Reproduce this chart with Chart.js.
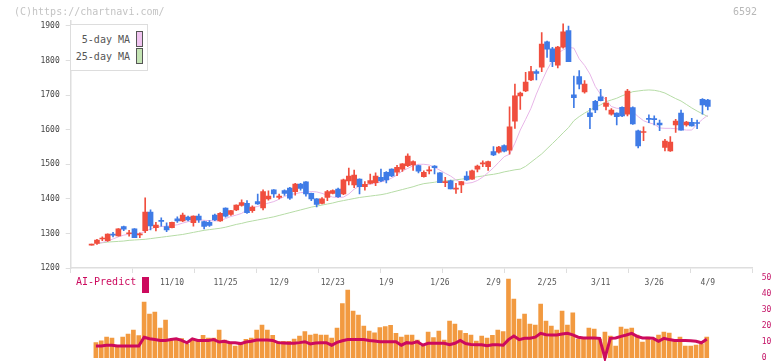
<!DOCTYPE html>
<html>
<head>
<meta charset="utf-8">
<title>6592</title>
<script src="https://cdn.jsdelivr.net/npm/chart.js@4.4.1/dist/chart.umd.min.js"></script>
<style>
    html, body { margin: 0; padding: 0; background: #fff; }
    #wrap { position: relative; width: 772px; height: 361px; overflow: hidden; font-family: 'DejaVu Sans Mono', monospace; }
    canvas { position: absolute; left: 0; }
    #priceChart { top: 0; }
    #volChart { top: 270px; }
    .txt { position: absolute; white-space: nowrap; font-size: 10px; line-height: 12px; color: #555; }
    .swatch { position: absolute; box-sizing: border-box; width: 7px; height: 16px; }
    #legendBox { position: absolute; left: 70px; top: 24px; width: 78px; height: 47px; box-sizing: border-box; border: 1px solid #ddd; background: #fff; }
</style>
</head>
<body>
<div id="wrap">
    <canvas id="priceChart" width="772" height="300"></canvas>
    <canvas id="volChart" width="772" height="91"></canvas>

    <div class="txt" style="left:14px; top:6px; color:#c4c4c4;">(C)https://chartnavi.com/</div>
    <div class="txt" style="right:15px; top:6px; color:#b8b8b8;">6592</div>

    <div id="legendBox"></div>
    <div class="txt" style="right:642px; top:34px;">5-day MA</div>
    <div class="swatch" style="left:136px; top:31px; background:#f0c4f0; border:1px solid #555;"></div>
    <div class="txt" style="right:642px; top:51px;">25-day MA</div>
    <div class="swatch" style="left:136px; top:48px; background:#c4e4b4; border:1px solid #555;"></div>

    <div class="txt" style="left:76px; top:276px; color:#cc0a5e;">AI-Predict</div>
    <div class="swatch" style="left:142px; top:277px; background:#cc0a5e;"></div>
</div>

<script>
// Daily candles, one per trading day (index 0 .. 115)
const opens = [1266,1271,1284,1279,1297,1293,1320,1299,1313,1296,1308,1362,1317,1337,1320,1317,1342,1336,1347,1331,
    1350,1334,1332,1353,1336,1373,1355,1368,1381,1387,1366,1392,1374,1400,1426,1404,1424,1431,1421,1443,
    1449,1416,1400,1387,1404,1416,1428,1414,1452,1440,1457,1435,1445,1447,1462,1477,1486,1477,1486,1496,
    1498,1496,1464,1481,1495,1475,1447,1452,1428,1440,1466,1457,1486,1501,1493,1537,1535,1554,1541,1625,
    1698,1712,1744,1768,1781,1854,1834,1787,1839,1887,1701,1754,1709,1649,1682,1695,1667,1645,1648,1665,
    1645,1664,1597,1592,1632,1631,1619,1549,1539,1614,1648,1614,1621,1620,1688,1686];
const highs = [1266,1283,1290,1299,1303,1314,1321,1309,1314,1302,1403,1368,1332,1345,1331,1333,1348,1359,1350,1351,
    1356,1336,1337,1356,1360,1374,1367,1383,1397,1395,1380,1414,1426,1423,1427,1414,1426,1433,1445,1445,
    1450,1417,1401,1404,1425,1426,1431,1457,1489,1483,1458,1450,1472,1475,1486,1479,1487,1497,1502,1530,
    1510,1498,1481,1493,1496,1476,1462,1454,1445,1451,1479,1483,1498,1510,1509,1551,1552,1556,1666,1732,
    1709,1766,1783,1773,1881,1856,1838,1841,1906,1900,1755,1771,1742,1662,1685,1717,1694,1661,1649,1666,
    1717,1666,1599,1608,1643,1640,1628,1572,1580,1630,1657,1624,1633,1628,1690,1688];
const lows = [1266,1268,1279,1277,1290,1292,1308,1292,1288,1288,1302,1310,1307,1321,1305,1316,1332,1334,1336,1321,
    1332,1313,1320,1337,1335,1347,1352,1366,1379,1358,1361,1384,1368,1396,1404,1400,1410,1398,1411,1425,
    1408,1395,1377,1385,1395,1414,1404,1412,1440,1432,1414,1425,1443,1438,1450,1446,1464,1467,1479,1493,
    1482,1475,1463,1472,1472,1447,1435,1429,1416,1418,1453,1456,1478,1493,1482,1525,1532,1536,1529,1604,
    1659,1710,1742,1744,1768,1809,1782,1779,1836,1797,1664,1718,1706,1603,1649,1683,1657,1642,1614,1638,
    1640,1615,1547,1568,1620,1614,1597,1539,1537,1592,1599,1610,1610,1603,1645,1657];
const closes = [1266,1281,1286,1298,1295,1313,1312,1301,1288,1298,1362,1322,1324,1335,1310,1332,1336,1353,1339,1350,
    1339,1320,1323,1339,1358,1350,1366,1382,1389,1360,1376,1385,1421,1408,1414,1408,1416,1402,1443,1430,
    1414,1400,1384,1400,1421,1424,1406,1455,1466,1469,1435,1442,1453,1466,1452,1455,1466,1491,1501,1524,
    1508,1480,1477,1483,1490,1447,1449,1429,1430,1450,1455,1481,1495,1503,1508,1527,1550,1538,1608,1698,
    1706,1738,1768,1763,1848,1833,1797,1839,1883,1797,1693,1732,1732,1638,1657,1684,1677,1657,1638,1640,
    1712,1617,1553,1594,1630,1629,1614,1567,1564,1625,1599,1622,1611,1618,1672,1667];

// Moving averages as drawn (no value on the first day)
const ma5 = [null,1270,1274,1278,1284,1290,1295,1298,1300,1300,1306,1313,1318,1320,1321,1323,1325,1330,1334,1336,
    1339,1338,1337,1336,1337,1343,1349,1353,1358,1368,1375,1378,1383,1388,1392,1399,1407,1412,1415,1418,
    1419,1421,1420,1416,1410,1405,1404,1405,1414,1428,1437,1441,1442,1445,1449,1453,1460,1469,1481,1488,
    1496,1500,1500,1498,1491,1483,1474,1466,1455,1447,1445,1447,1453,1463,1476,1490,1506,1522,1529,1561,
    1599,1630,1662,1703,1739,1773,1800,1821,1831,1838,1836,1805,1786,1761,1725,1702,1686,1667,1662,1661,
    1659,1652,1638,1626,1620,1616,1605,1604,1604,1603,1601,1599,1599,1616,1630,1642];
const ma25 = [null,1271,1273,1275,1276,1277,1278,1280,1281,1282,1283,1285,1287,1289,1291,1293,1295,1297,1300,1303,
    1306,1309,1311,1313,1315,1318,1322,1326,1329,1333,1336,1339,1342,1345,1348,1352,1356,1360,1364,1368,
    1372,1376,1379,1382,1385,1388,1392,1395,1398,1401,1404,1406,1408,1410,1412,1415,1419,1423,1427,1431,
    1435,1440,1444,1446,1448,1451,1452,1453,1455,1457,1459,1461,1464,1466,1469,1471,1474,1478,1481,1484,
    1486,1494,1506,1518,1530,1545,1560,1575,1591,1606,1626,1638,1648,1657,1665,1672,1681,1686,1691,1698,
    1704,1710,1712,1714,1715,1714,1711,1706,1698,1690,1683,1673,1663,1654,1646,1638];

// Lower panel: volume bars and AI-Predict line (0 - 50 scale)
const volumes = [null,9.6,10.8,13.1,12.5,7.5,13.1,15,17.5,14,35,27.5,28.7,18.7,23.7,11.2,12.1,12.1,8.7,11.7,
    11.7,14.2,12.5,12.5,17.5,11.2,9.2,7.5,9.2,11.7,12.5,17.5,20.6,17.5,14.2,10.4,10.4,10.4,11.9,13.7,
    16.5,14.4,15,14.4,14.4,12.5,18.7,34,42.5,29.4,26.9,20,16.9,15.8,19,19.6,20.4,15.4,13.1,14.4,
    14.4,11.2,7.5,16.2,12.7,16.9,11.2,23.1,21.2,17.1,15.4,14.4,10.6,13.7,12.5,14.2,17.5,16.5,49.4,36.9,
    24.4,27.5,21.2,20.6,33.7,23.1,20,17.5,29.4,20.6,28.3,11.9,11.9,18.7,18.1,11.9,16.2,13.7,7.5,19.4,
    18.1,18.7,14.4,10,13.1,11.2,14.4,16.2,15.6,10.6,13.1,7.5,7.5,8,8.7,13.1];
const aiPredict = [null,7.5,7.5,8,8,7.5,7.5,7.5,7.5,7.5,13,12,11.5,11,11,11.5,12,11,9.5,12,
    11,11,11,11.5,10,10.5,9.5,9.5,9,10,10.5,11.2,11.2,11.2,11,9.6,9.4,9.2,9.2,9.6,
    10.2,8.8,9.4,9.6,9.6,8,9.8,10.8,11.5,11.5,11.5,11.5,11,10.6,10.2,10.2,10.2,10.2,8,9.6,
    9.2,10.2,8,9.2,9.2,9.2,9.2,8.3,9.2,11,9,8.5,8.3,8.3,7.7,8.3,8.3,8,11.5,13.7,
    11.5,12.3,12.3,13,15.4,14.6,14.4,14.4,15,15.4,14.5,13,12.5,12.5,12.5,12.3,0,12.3,12.5,13.5,
    14.4,15.4,13.5,12.5,12.5,12.3,10.5,12.3,11.5,11,11,11,10.8,10.5,9.5,11.7];

// Axis labels
const priceTicks = [1200, 1300, 1400, 1500, 1600, 1700, 1800, 1900];
const volTicks = [0, 10, 20, 30, 40, 50];
const dateLabels = ['11/10', '11/25', '12/9', '12/23', '1/9', '1/26', '2/9', '2/25', '3/11', '3/26', '4/9'];
const dateIndex = [15, 25, 35, 45, 55, 65, 75, 85, 95, 105, 115];

const X_MIN = -3.9, X_MAX = 123.3;
const VOL_SHIFT = 0.2;   // lower panel bars sit a pixel left of the candles
const RED = '#f04e3e', BLUE = '#3f7be6';
const AXIS = '#dedede';
const TICK_FONT = { family: "'DejaVu Sans Mono', monospace", size: 8 };

document.addEventListener('DOMContentLoaded', () => {
    initPriceChart();
    initVolumeChart();
});

// 12 evenly spaced marks along the bottom axis
function gridTicks(scale) {
    const step = (X_MAX - X_MIN) / 11;
    scale.ticks = Array.from({ length: 12 }, (_, k) => ({ value: X_MIN + k * step }));
}

function initPriceChart() {
    const idx = opens.map((_, i) => i);
    const colors = idx.map(i => closes[i] >= opens[i] ? RED : BLUE);

    new Chart(document.getElementById('priceChart'), {
        type: 'bar',
        data: {
            datasets: [{
                label: 'body',
                data: idx.map(i => ({ x: i, y: [opens[i], closes[i]] })),
                backgroundColor: colors,
                barThickness: 5,
                minBarLength: 1,
                grouped: false,
                order: 0
            }, {
                label: 'wick',
                data: idx.map(i => ({ x: i, y: [lows[i], highs[i]] })),
                backgroundColor: colors,
                barThickness: 1,
                minBarLength: 1,
                grouped: false,
                order: 1
            }, {
                type: 'line',
                label: '5-day MA',
                data: idx.map(i => ({ x: i, y: ma5[i] })),
                borderColor: '#e8b6e8',
                borderWidth: 1,
                pointRadius: 0,
                order: 2
            }, {
                type: 'line',
                label: '25-day MA',
                data: idx.map(i => ({ x: i, y: ma25[i] })),
                borderColor: '#b6dca6',
                borderWidth: 1,
                pointRadius: 0,
                order: 3
            }]
        },
        options: {
            responsive: false,
            animation: false,
            events: [],
            layout: { padding: { left: 0, right: 19.7, top: 20.8, bottom: 0 } },
            plugins: { legend: { display: false }, tooltip: { enabled: false } },
            scales: {
                x: {
                    type: 'linear',
                    min: X_MIN,
                    max: X_MAX,
                    offset: false,
                    afterBuildTicks: gridTicks,
                    afterFit: s => { s.height = 10; },
                    grid: { offset: false, drawOnChartArea: false, drawTicks: true, tickLength: 5, color: AXIS },
                    border: { color: AXIS, width: 1.5 },
                    ticks: { display: false }
                },
                x2: {
                    type: 'linear',
                    position: 'bottom',
                    min: X_MIN,
                    max: X_MAX,
                    offset: false,
                    afterBuildTicks: s => { s.ticks = dateIndex.map(v => ({ value: v })); },
                    afterFit: s => { s.height = 22; },
                    grid: { display: false, drawTicks: false },
                    border: { display: false },
                    ticks: {
                        font: TICK_FONT,
                        color: '#555',
                        padding: 0,
                        maxRotation: 0,
                        autoSkip: false,
                        callback: (v, i) => dateLabels[i]
                    }
                },
                y: {
                    min: 1200,
                    max: 1915,
                    afterBuildTicks: s => { s.ticks = priceTicks.map(v => ({ value: v })); },
                    afterFit: s => { s.width = 70.7; },
                    grid: { drawOnChartArea: false, drawTicks: true, tickLength: 5, color: AXIS },
                    border: { color: AXIS, width: 1.5 },
                    ticks: { font: TICK_FONT, color: '#444', padding: 6, callback: v => String(v) }
                }
            }
        }
    });
}

function initVolumeChart() {
    const idx = volumes.map((_, i) => i);

    new Chart(document.getElementById('volChart'), {
        type: 'bar',
        data: {
            datasets: [{
                type: 'line',
                label: 'AI-Predict',
                data: idx.map(i => ({ x: i, y: aiPredict[i] })),
                borderColor: '#cc0a5e',
                borderWidth: 3,
                pointRadius: 0,
                clip: 4,
                order: 0
            }, {
                label: 'volume',
                data: idx.map(i => ({ x: i, y: volumes[i] })),
                backgroundColor: '#f29a40',
                barThickness: 4,
                grouped: false,
                order: 1
            }]
        },
        options: {
            responsive: false,
            animation: false,
            events: [],
            layout: { padding: { left: 70.7, right: 0, top: 8, bottom: 3 } },
            plugins: { legend: { display: false }, tooltip: { enabled: false } },
            scales: {
                x: {
                    type: 'linear',
                    min: X_MIN + VOL_SHIFT,
                    max: X_MAX + VOL_SHIFT,
                    offset: false,
                    display: false
                },
                y: {
                    position: 'right',
                    min: 0,
                    max: 50,
                    afterBuildTicks: s => { s.ticks = volTicks.map(v => ({ value: v })); },
                    afterFit: s => { s.width = 19.7; },
                    // hidden tick marks only push the labels out; label padding would squeeze the panel
                    grid: { display: false, drawTicks: true, tickLength: 9.4 },
                    border: { display: false },
                    ticks: { font: { ...TICK_FONT, lineHeight: 0.5 }, color: '#c41467', padding: 0 }
                }
            }
        }
    });
}
</script>
</body>
</html>
